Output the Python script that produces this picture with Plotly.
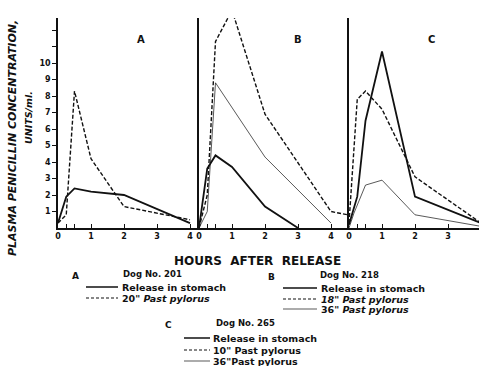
import plotly.graph_objects as go

# ---------------- data ----------------
hours_a_solid = [0, 0.25, 0.5, 1, 2, 4]
conc_a_solid = [0.3, 1.9, 2.4, 2.2, 2.0, 0.3]
hours_a_dash = [0, 0.25, 0.5, 1, 2, 4]
conc_a_dash = [0.3, 0.8, 8.3, 4.2, 1.3, 0.5]

hours_b_solid = [0, 0.25, 0.5, 1, 2, 3]
conc_b_solid = [0, 3.6, 4.4, 3.7, 1.3, 0]
hours_b_dash = [0, 0.25, 0.5, 1, 2, 4, 4.5]
conc_b_dash = [0, 2.0, 11.3, 13.2, 6.9, 1.0, 0.8]
hours_b_thin = [0, 0.25, 0.5, 2, 4]
conc_b_thin = [0, 1.0, 8.8, 4.3, 0.3]

hours_c_solid = [0, 0.25, 0.5, 1, 2, 4]
conc_c_solid = [0.2, 1.9, 6.5, 10.7, 1.9, 0.3]
hours_c_dash = [0, 0.25, 0.5, 1, 2, 4]
conc_c_dash = [0.3, 7.8, 8.3, 7.2, 3.1, 0.3]
hours_c_thin = [0, 0.15, 0.5, 1, 2, 4]
conc_c_thin = [0, 0.9, 2.6, 2.9, 0.8, 0.1]

x_tickvals = [0, 0.25, 0.5, 1, 2, 3, 4]
x_ticktext = ["0", " ", " ", "1", "2", "3", "4"]
y_tickvals = [1, 2, 3, 4, 5, 6, 7, 8, 9, 10, 11, 12]
y_ticktext = ["1", "2", "3", "4", "5", "6", "7", "8", "9", "10", " ", " "]

panel_letters = ["A", "B", "C"]

# ---------------- layout geometry ----------------
W, H = 479, 366
L, R, T, B = 58, 479, 18, 228
PW, PH = R - L, B - T


def px(x):
    return (x - L) / PW


def py(y):
    return (B - y) / PH


FONT = "DejaVu Sans"
BLACK = "#111111"

fig = go.Figure()

solid = dict(color=BLACK, width=1.8)
dash = dict(color=BLACK, width=1.4, dash="4px,2px")
thin = dict(color=BLACK, width=0.7)

fig.add_trace(go.Scatter(x=hours_a_solid, y=conc_a_solid, mode="lines", line=solid, xaxis="x", yaxis="y"))
fig.add_trace(go.Scatter(x=hours_a_dash, y=conc_a_dash, mode="lines", line=dash, xaxis="x", yaxis="y"))
fig.add_trace(go.Scatter(x=hours_b_solid, y=conc_b_solid, mode="lines", line=solid, xaxis="x2", yaxis="y2"))
fig.add_trace(go.Scatter(x=hours_b_dash, y=conc_b_dash, mode="lines", line=dash, xaxis="x2", yaxis="y2"))
fig.add_trace(go.Scatter(x=hours_b_thin, y=conc_b_thin, mode="lines", line=thin, xaxis="x2", yaxis="y2"))
fig.add_trace(go.Scatter(x=hours_c_solid, y=conc_c_solid, mode="lines", line=solid, xaxis="x3", yaxis="y3"))
fig.add_trace(go.Scatter(x=hours_c_dash, y=conc_c_dash, mode="lines", line=dash, xaxis="x3", yaxis="y3"))
fig.add_trace(go.Scatter(x=hours_c_thin, y=conc_c_thin, mode="lines", line=thin, xaxis="x3", yaxis="y3"))

yr = [0, (B - T) / 16.5]
tickfont = dict(family=FONT, size=8, color=BLACK, weight="bold")

xcommon = dict(showgrid=False, zeroline=False, showline=True, linecolor=BLACK, linewidth=1.5,
               tickvals=x_tickvals, ticktext=x_ticktext, ticks="inside", ticklen=4,
               tickcolor=BLACK, tickwidth=1.2, tickfont=tickfont)
ycommon = dict(showgrid=False, zeroline=False, showline=True, linecolor=BLACK, linewidth=1.6,
               range=yr, domain=[0, 1])

dA = [0, px(199)]
dB = [px(199), px(349)]
dC = [px(349), 1]

fig.update_layout(
    width=W, height=H,
    margin=dict(l=L, r=W - R, t=T, b=H - B),
    paper_bgcolor="white", plot_bgcolor="white",
    showlegend=False,
    xaxis=dict(domain=dA, range=[0, 141 / 33], anchor="y", **xcommon),
    xaxis2=dict(domain=dB, range=[0, 150 / 33], anchor="y2", **xcommon),
    xaxis3=dict(domain=dC, range=[0, 130 / 33], anchor="y3", **xcommon),
    yaxis=dict(anchor="x", tickvals=y_tickvals, ticktext=y_ticktext, ticks="outside",
               ticklen=4, tickcolor=BLACK, tickwidth=1.2, tickfont=tickfont, **ycommon),
    yaxis2=dict(anchor="x2", showticklabels=False, **ycommon),
    yaxis3=dict(anchor="x3", showticklabels=False, **ycommon),
)

ann = []


def text(x, y, s, size=9, anchor="left", angle=0, italic=False):
    ann.append(dict(x=px(x), y=py(y), xref="paper", yref="paper", text=s, showarrow=False,
                    xanchor=anchor, yanchor="middle", textangle=angle,
                    font=dict(family=FONT, size=size, color=BLACK, weight="bold",
                              style="italic" if italic else "normal")))


# panel letters
for (lx, ly), letter in zip([(141, 40), (298, 40), (431, 40)], panel_letters):
    text(lx, ly, letter, size=10, anchor="center")

# y-axis title
text(12, 138, "PLASMA PENICILLIN CONCENTRATION,", size=11, anchor="center", angle=-90, italic=True)
text(28, 118, "UNITS/ml.", size=9.5, anchor="center", angle=-90, italic=True)

# x-axis title
text(257, 261, "HOURS  AFTER  RELEASE", size=12, anchor="center")

shapes = []


def seg(x0, x1, y, style):
    d = dict(type="line", xref="paper", yref="paper", x0=px(x0), x1=px(x1), y0=py(y), y1=py(y),
             line=dict(color=BLACK, width=style.get("width", 1), dash=style.get("dash", "solid")))
    shapes.append(d)


LS = 9.5   # legend row font size
DS = 8.5   # "Dog No." font size

# legend A
text(75, 276, "A", size=9, anchor="center")
text(121, 274, "Dog No. 201", size=DS)
seg(86, 118, 287, dict(width=1.5))
text(120, 287, "Release in stomach", size=LS)
seg(86, 118, 298, dict(width=1.2, dash="3px,2px"))
text(120, 298, '20" <i>Past pylorus</i>', size=LS)

# legend B
text(271, 277, "B", size=9, anchor="center")
text(318, 275, "Dog No. 218", size=DS)
seg(283, 317, 288, dict(width=1.5))
text(319, 288, "Release in stomach", size=LS)
seg(283, 317, 299, dict(width=1.2, dash="3px,2px"))
text(319, 299, '<i>18" Past pylorus</i>', size=LS)
seg(283, 317, 309, dict(width=0.7))
text(319, 309, '36" <i>Past pylorus</i>', size=LS)

# legend C
text(168, 325, "C", size=9, anchor="center")
text(214, 323, "Dog No. 265", size=DS)
seg(184, 210, 338, dict(width=1.5))
text(211, 338, "Release in stomach", size=LS)
seg(184, 210, 350, dict(width=1.2, dash="3px,2px"))
text(211, 350, '10" Past pylorus', size=LS)
seg(184, 210, 361, dict(width=0.7))
text(211, 361, '36"Past pylorus', size=LS)

fig.update_layout(annotations=ann, shapes=shapes)

fig.write_html("out.html", config={"responsive": False, "displayModeBar": False},
               post_script="document.body.style.margin='0';document.body.style.padding='0';")
